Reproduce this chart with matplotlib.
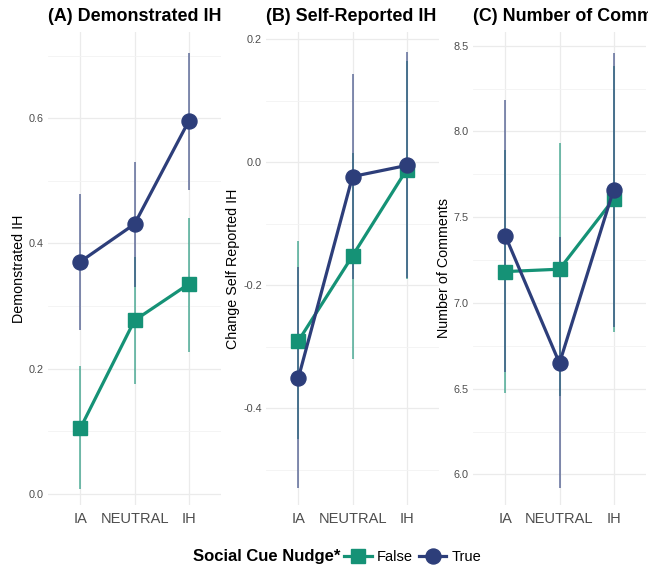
import numpy as np
import matplotlib
matplotlib.use("Agg")
import matplotlib.pyplot as plt
from matplotlib.transforms import Bbox, TransformedBbox
from matplotlib.lines import Line2D

plt.rcParams['font.family'] = ['Liberation Sans', 'DejaVu Sans']

conditions = ['IA', 'NEUTRAL', 'IH']
green = '#159276'
navy = '#2D3E7A'

# Demonstrated IH
demo_false = [0.105, 0.277, 0.335]
demo_false_lo = [0.008, 0.176, 0.226]
demo_false_hi = [0.204, 0.378, 0.440]
demo_true = [0.371, 0.431, 0.595]
demo_true_lo = [0.261, 0.330, 0.485]
demo_true_hi = [0.479, 0.531, 0.705]

# Change in self-reported IH
self_false = [-0.290, -0.152, -0.012]
self_false_lo = [-0.450, -0.320, -0.190]
self_false_hi = [-0.128, 0.015, 0.165]
self_true = [-0.350, -0.023, -0.005]
self_true_lo = [-0.530, -0.190, -0.188]
self_true_hi = [-0.170, 0.143, 0.179]

# Number of comments
comm_false = [7.183, 7.197, 7.605]
comm_false_lo = [6.475, 6.460, 6.833]
comm_false_hi = [7.890, 7.930, 8.380]
comm_true = [7.390, 6.649, 7.660]
comm_true_lo = [6.600, 5.920, 6.860]
comm_true_hi = [8.185, 7.385, 8.460]

panels = [
    dict(title='(A) Demonstrated IH', ylabel='Demonstrated IH',
         f=(demo_false, demo_false_lo, demo_false_hi),
         t=(demo_true, demo_true_lo, demo_true_hi),
         ylim=(-0.018, 0.738), major=[0.0, 0.2, 0.4, 0.6], minor=[0.1, 0.3, 0.5, 0.7],
         left=48),
    dict(title='(B) Self-Reported IH', ylabel='Change Self Reported IH',
         f=(self_false, self_false_lo, self_false_hi),
         t=(self_true, self_true_lo, self_true_hi),
         ylim=(-0.557, 0.212), major=[-0.4, -0.2, 0.0, 0.2], minor=[-0.5, -0.3, -0.1, 0.1],
         left=266),
    dict(title='(C) Number of Comments', ylabel='Number of Comments',
         f=(comm_false, comm_false_lo, comm_false_hi),
         t=(comm_true, comm_true_lo, comm_true_hi),
         ylim=(5.822, 8.58), major=[6.0, 6.5, 7.0, 7.5, 8.0, 8.5],
         minor=[6.25, 6.75, 7.25, 7.75, 8.25], left=473),
]

W, H = 662, 567
fig = plt.figure(figsize=(W / 100, H / 100), dpi=100)
x = np.arange(1, 4)

for p in panels:
    ax = fig.add_axes([p['left'] / W, (H - 505) / H, 173 / W, 473 / H])
    ax.set_xlim(0.4, 3.6)
    ax.set_ylim(*p['ylim'])
    for s in ax.spines.values():
        s.set_visible(False)
    ax.set_yticks(p['major'])
    ax.set_yticklabels(['{:.1f}'.format(v) for v in p['major']])
    ax.set_yticks(p['minor'], minor=True)
    ax.set_xticks(x)
    ax.set_xticklabels(conditions)
    ax.tick_params(axis='both', which='both', length=0)
    ax.tick_params(axis='y', labelsize=7.8, labelcolor='#4D4D4D', pad=3)
    ax.tick_params(axis='x', labelsize=10.5, labelcolor='#4D4D4D', pad=5)
    ax.grid(True, which='major', color='#EBEBEB', lw=0.9)
    ax.grid(True, which='minor', axis='y', color='#F3F3F3', lw=0.6)
    ax.set_axisbelow(True)
    ax.set_ylabel(p['ylabel'], fontsize=10.3, labelpad=2)

    series = [(p['f'], green, 's', 10), (p['t'], navy, 'o', 10.8)]
    # error bars under the lines, True drawn over False
    for (vals, lo, hi), col, mk, ms in series:
        ax.vlines(x, lo, hi, color=col, lw=1.1, alpha=0.75, zorder=2)
    for (vals, lo, hi), col, mk, ms in series:
        ax.plot(x, vals, color=col, lw=2.3, marker=mk, ms=ms, zorder=3)

    t = ax.text(0, 1.015, p['title'], transform=ax.transAxes, fontsize=12.9,
                fontweight='bold', ha='left', va='bottom')
    t.set_clip_box(TransformedBbox(Bbox([[0, 0], [648 / W, 1]]), fig.transFigure))
    t.set_clip_on(True)

# legend: bold title inline, then the two keys
ly = 1 - 557 / H
fig.text(340 / W, ly, 'Social Cue Nudge*', fontsize=12, fontweight='bold',
         ha='right', va='center')
handles = [
    Line2D([], [], color=green, lw=2.3, marker='s', ms=10),
    Line2D([], [], color=navy, lw=2.3, marker='o', ms=10.8),
]
fig.legend(handles, ['False', 'True'], ncol=2, loc='center left',
           bbox_to_anchor=(344 / W, ly), frameon=False, fontsize=10.5,
           handlelength=1.9, handletextpad=0.35, columnspacing=0.4, borderpad=0,
           borderaxespad=0)

fig.savefig('out.png', dpi=100)
